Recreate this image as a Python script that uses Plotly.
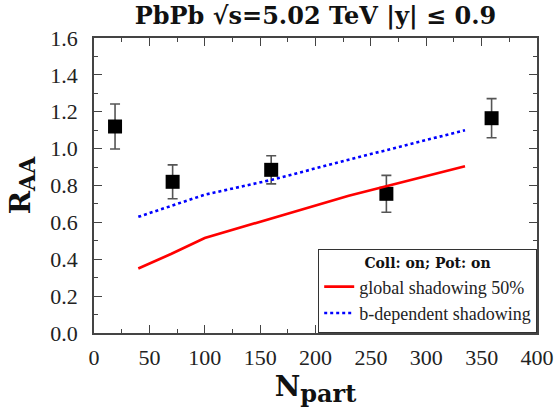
import plotly.graph_objects as go

# Data
npart_data = [19, 71, 160, 264, 359]
raa_data = [1.12, 0.82, 0.885, 0.755, 1.165]
raa_err = [0.122, 0.092, 0.076, 0.10, 0.106]

npart_model = [40, 70, 100, 160, 230, 335]
raa_global = [0.35, 0.43, 0.515, 0.62, 0.745, 0.905]
raa_bdep = [0.63, 0.69, 0.75, 0.83, 0.94, 1.10]

REG = "Liberation Serif"
BOLD = "DejaVu Serif"

fig = go.Figure()
fig.add_trace(go.Scatter(
    x=npart_data, y=raa_data, mode="markers",
    marker=dict(symbol="square", size=14, color="black"),
    error_y=dict(type="data", array=raa_err, color="#555555", thickness=1.6, width=5),
    showlegend=False,
))
fig.add_trace(go.Scatter(
    x=npart_model, y=raa_global, mode="lines",
    line=dict(color="red", width=2.6),
    name="global shadowing 50%",
))
fig.add_trace(go.Scatter(
    x=npart_model, y=raa_bdep, mode="lines",
    line=dict(color="blue", width=2.6, dash="dot"),
    name="b-dependent shadowing",
))

axis_common = dict(
    showline=True, linecolor="#444444", linewidth=1.5, mirror="allticks",
    ticks="inside", ticklen=8, tickcolor="#444444", tickwidth=1.2,
    showgrid=False, zeroline=False, automargin=False,
    ticklabeloverflow="allow",
    tickfont=dict(family=REG, size=22, color="#222222"),
)

fig.update_layout(
    width=555, height=410,
    margin=dict(l=94, r=18, t=38, b=77),
    paper_bgcolor="white", plot_bgcolor="white",
    title=dict(text="<b>PbPb √s=5.02 TeV |y| ≤ 0.9</b>", xref="paper", x=0.5, xanchor="center",
               y=0.962, yanchor="middle",
               font=dict(family=BOLD, size=24, color="#111111")),
    xaxis=dict(range=[0, 400], dtick=50, tick0=0, ticklabelstandoff=4,
               minor=dict(ticks="inside", dtick=25, ticklen=4, tickcolor="#444444"),
               title=dict(text="<b>N<sub><span style='font-size:24px'>part</span></sub></b>",
                          font=dict(family=BOLD, size=28, color="#111111"),
                          standoff=6),
               **axis_common),
    yaxis=dict(range=[0, 1.6], dtick=0.2, tickformat=".1f", ticklabelstandoff=10,
               minor=dict(ticks="inside", dtick=0.1, ticklen=4, tickcolor="#444444"),
               title=dict(text="<b>R<sub><span style='font-size:22px'>AA</span></sub></b>",
                          font=dict(family=BOLD, size=28, color="#111111"),
                          standoff=12),
               **axis_common),
    legend=dict(
        x=1, xanchor="right", y=0, yanchor="bottom",
        bordercolor="#333333", borderwidth=1.2, bgcolor="white",
        font=dict(family=REG, size=18, color="#222222"),
        title=dict(text="<b>Coll: on; Pot: on</b>", side="top center",
                   font=dict(family=BOLD, size=14, color="#111111")),
        tracegroupgap=0, itemwidth=30,
    ),
)

fig.write_html("out.html")
